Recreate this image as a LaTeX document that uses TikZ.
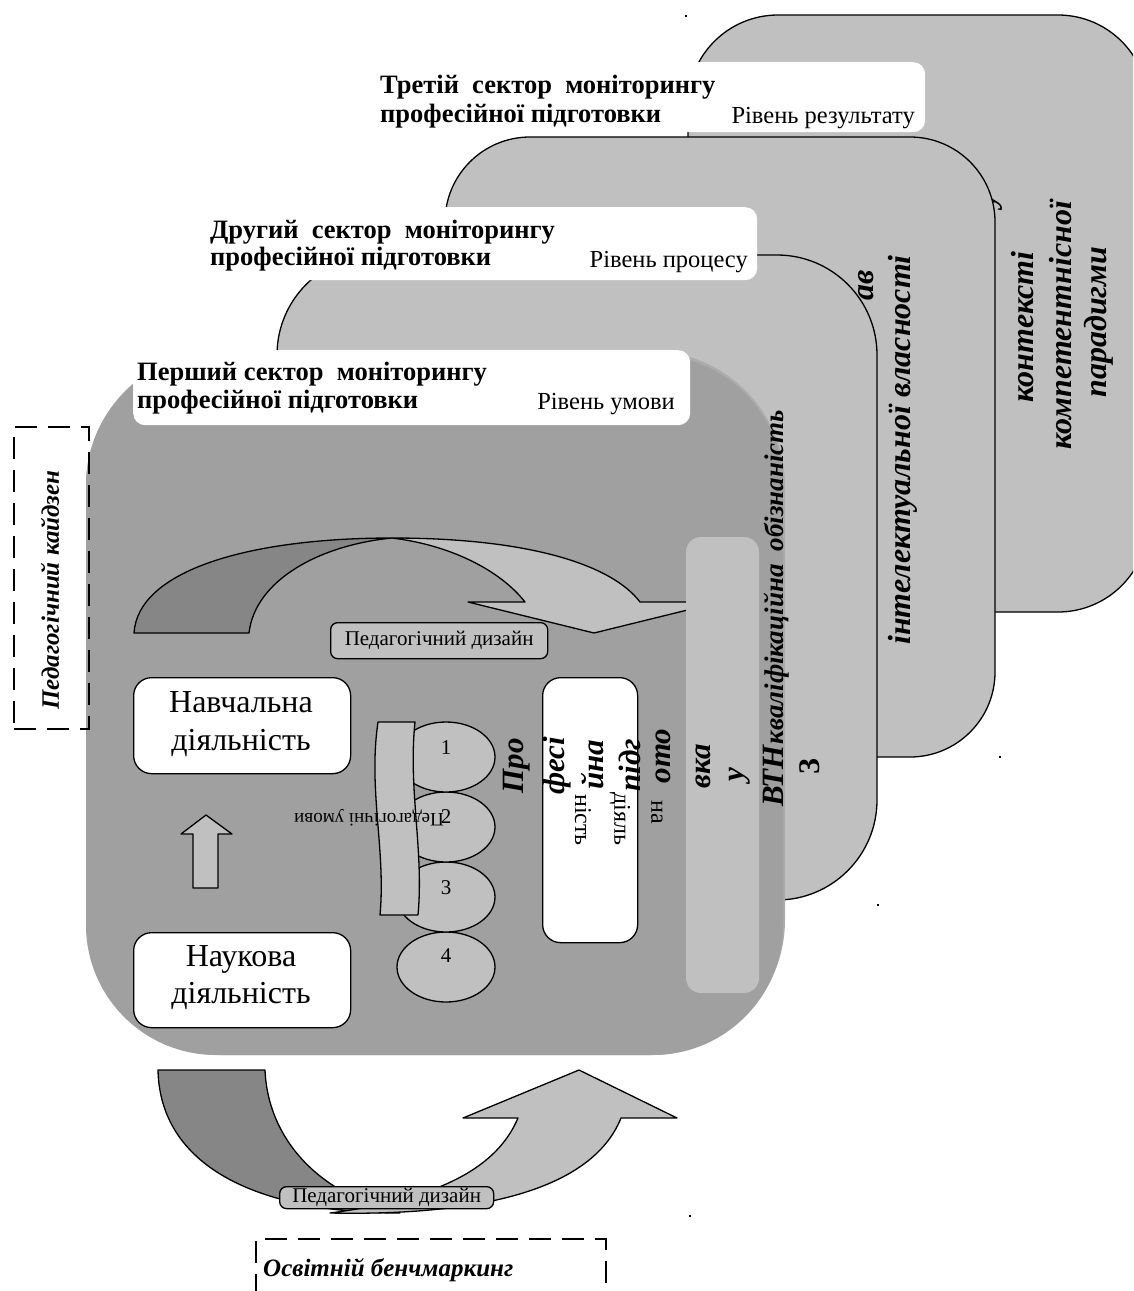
\documentclass[tikz,border=0pt]{standalone}
\usepackage{fontspec}
\setmainfont{Liberation Serif}
\usetikzlibrary{shapes.geometric}
\definecolor{pa}{RGB}{160,160,160}
\definecolor{ps}{RGB}{172,172,172}
\definecolor{lg}{RGB}{192,192,192}
\definecolor{dk}{RGB}{134,134,134}
\begin{document}
\begin{tikzpicture}[x=1pt,y=-1pt,
 panel/.style={fill=lg,draw=black,line width=1.3pt,rounded corners=#1},
 shapeo/.style={draw=black,line width=1.3pt,line join=round},
 ptx/.style={font=\fontsize{32}{36}\selectfont\bfseries\itshape,inner sep=0pt,rotate=90},
 vtx/.style={font=\fontsize{31}{34}\selectfont\bfseries\itshape,inner sep=0pt,rotate=90},
 ntx/.style={font=\fontsize{24}{26}\selectfont,inner sep=0pt,rotate=-90},
 hdr/.style={font=\fontsize{26.5}{29}\selectfont\bfseries,inner sep=0pt,anchor=base west},
 lvl/.style={font=\fontsize{24.5}{26}\selectfont,inner sep=0pt,anchor=base east},
 lblbox/.style={fill=white,rounded corners=12,inner sep=0pt,anchor=north west},
 wbox/.style={fill=white,draw=black,line width=1.3pt,rounded corners=18,inner sep=0pt,anchor=north west},
 gbox/.style={fill=lg,draw=black,line width=1.3pt,rounded corners=7,inner sep=0pt,anchor=north west},
 act/.style={font=\fontsize{32}{38}\selectfont,inner sep=0pt,anchor=base},
 circn/.style={ellipse,fill=lg,draw=black,line width=1.3pt,minimum width=98pt,minimum height=70pt,inner sep=0pt},
 num/.style={font=\fontsize{21}{22}\selectfont,inner sep=0pt},
 dbox/.style={draw=black,line width=2.4pt,dash pattern=on 22pt off 11pt,inner sep=0pt,anchor=north west},
 dtx/.style={font=\fontsize{25}{28}\selectfont\bfseries\itshape,inner sep=0pt},
 dsg/.style={font=\fontsize{21}{22}\selectfont,inner sep=0pt},
 speck/.style={fill=black,inner sep=0pt,minimum size=2.5pt}]
\path[use as bounding box] (0,0) rectangle (1133,1291);
\clip (0,0) rectangle (1133,1291);
\fill[white] (0,0) rectangle (1133,1291);

% ---- panel D (back)
\path[panel=90] (688,15) rectangle (1148,612);
\node[ptx] (d0) at (992,200) {у};
\node[ptx] (d1) at (1023,327) {контексті};
\node[ptx] (d2) at (1061,325) {компетентнісної};
\node[ptx] (d3) at (1099,322) {парадигми};

% ---- panel C
\path[panel=85] (445,137) rectangle (995,757);
\node[ptx] (c0) at (866,285) {ав};
\node[ptx] (c1) at (903,450) {інтелектуальної власності};

% ---- panel B
\path[panel=100] (277,255) rectangle (877,900);

% ---- panel A (front)
\path[fill=ps,rounded corners=135] (86,351) rectangle (785,1055);
\path[fill=pa,rounded corners=130] (86,355) rectangle (783,1055);

% top curved arrow
\path[shapeo,fill=dk] (134,633) .. controls (138,570) and (250,538) .. (392,538)
  .. controls (320,545) and (255,580) .. (249,633) -- cycle;
\path[shapeo,fill=lg] (392,538) .. controls (530,538) and (612,565) .. (640,602)
  -- (720,602) -- (594,633) -- (468,602) -- (525,602)
  .. controls (500,570) and (450,545) .. (392,538) -- cycle;
\path[fill=lg,rounded corners=15] (686,537) rectangle (759,993);
\node[gbox,minimum width=217pt,minimum height=36pt] (pd1) at (330,622) {};
\node[dsg] (pd1t) at (pd1.center) {Педагогічний дизайн};

% panel B text (lies over the edge of panel A)
\node[ptx,font=\fontsize{27}{30}\selectfont\bfseries\itshape] (b1) at (777,577) {кваліфікаційна\ \ обізнаність};

% activity boxes
\node[wbox,minimum width=217pt,minimum height=96pt] (nav) at (133,677) {};
\node[act] (nav1) at (241,712) {Навчальна};
\node[act] (nav2) at (241,750) {діяльність};
\node[wbox,minimum width=217pt,minimum height=95pt] (nauk) at (133,932) {};
\node[act] (nauk1) at (241,966) {Наукова};
\node[act] (nauk2) at (241,1003) {діяльність};
\path[shapeo,fill=lg] (206,815) -- (232,834) -- (218,834) -- (218,888)
  -- (193,888) -- (193,834) -- (181,834) -- cycle;

% circles
\node[circn] (e4) at (446,967) {};
\node[circn] (e3) at (446,897) {};
\node[circn] (e2) at (446,827) {};
\node[circn] (e1) at (446,757) {};
\node[num] (n1) at (446,748) {1};
\node[num] (n2) at (446,817) {2};
\node[num] (n3) at (446,888) {3};
\node[num] (n4) at (446,956) {4};

% banner
\path[shapeo,fill=lg] (378,722) -- (415,722) .. controls (408,790) and (424,850) .. (418,915)
  -- (380,915) .. controls (386,850) and (368,790) .. (378,722) -- cycle;
\node[font=\fontsize{19}{20}\selectfont,inner sep=0pt,rotate=180] (bt) at (369,818) {Педагогічні умови};

% professional box
\node[wbox,minimum width=95pt,minimum height=265pt] (pbox) at (542,677) {};
\node[ntx] (p1) at (657,812) {на};
\node[ntx] (p2) at (620,819) {діяль};
\node[ntx] (p3) at (583,820) {ність};
\node[vtx] (v1) at (517,766) {Про};
\node[vtx] (v2) at (557,766) {фесі};
\node[vtx] (v3) at (593,765) {йна};
\node[vtx] (v4) at (630,765) {підг};
\node[vtx] (v5) at (663,756) {ото};
\node[vtx] (v6) at (703,766) {вка};
\node[vtx] (v7) at (740,775) {у};
\node[vtx] (v8) at (773,776) {ВТН};
\node[font=\fontsize{30}{34}\selectfont\bfseries,inner sep=0pt,rotate=90] (v9) at (810,767) {З};

% left dashed box
\node[dbox,minimum width=75pt,minimum height=302pt] (kz) at (13,426) {};
\node[dtx,rotate=90] (kzt) at (50,590) {Педагогічний кайдзен};

% bottom curved arrow
\path[shapeo,fill=dk] (158,1070) .. controls (160,1165) and (255,1213) .. (400,1213)
  .. controls (320,1195) and (268,1140) .. (265,1070) -- cycle;
\path[shapeo,fill=lg] (330,1213) .. controls (480,1216) and (592,1190) .. (621,1118)
  -- (677,1118) -- (579,1070) -- (463,1118) -- (518,1118)
  .. controls (498,1165) and (445,1198) .. (330,1213) -- cycle;
\node[gbox,minimum width=214pt,minimum height=22pt] (pd2) at (279,1186) {};
\node[font=\fontsize{21}{22}\selectfont,inner sep=0pt] (pd2t) at (pd2.center) {Педагогічний дизайн};

% bottom dashed box
\node[dbox,minimum width=350pt,minimum height=90pt] (bm) at (255,1238) {};
\node[dtx,anchor=base west] (bmt) at (263,1276) {Освітній бенчмаркинг};

% sector labels
\node[lblbox,minimum width=555pt,minimum height=70pt] (L3) at (370,62) {};
\node[hdr] (L3a) at (380,93) {Третій\ \ сектор\ \ моніторингу};
\node[hdr] (L3b) at (380,122) {професійної підготовки};
\node[lvl] (L3c) at (915,123) {Рівень результату};
\node[lblbox,minimum width=557pt,minimum height=73pt] (L2) at (200,207) {};
\node[hdr] (L2a) at (210,238) {Другий\ \ сектор\ \ моніторингу};
\node[hdr] (L2b) at (210,265) {професійної підготовки};
\node[lvl] (L2c) at (748,267) {Рівень процесу};
\node[lblbox,minimum width=557pt,minimum height=75pt] (L1) at (133,350) {};
\node[hdr] (L1a) at (137,380) {Перший сектор\ \ моніторингу};
\node[hdr] (L1b) at (137,408) {професійної підготовки};
\node[lvl] (L1c) at (675,409) {Рівень умови};

% stray marks
\node[speck] (s1) at (686,16) {};
\node[speck] (s2) at (1000,757) {};
\node[speck] (s3) at (878,905) {};
\node[speck] (s4) at (690,1216) {};
\end{tikzpicture}
\end{document}
